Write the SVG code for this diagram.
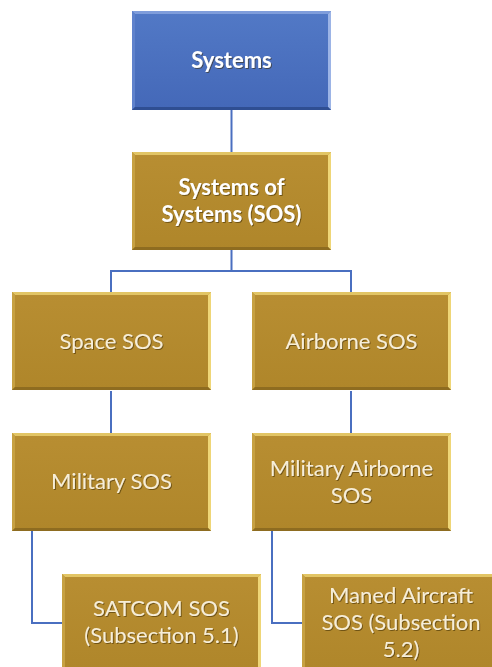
<svg xmlns="http://www.w3.org/2000/svg" width="492" height="667" viewBox="0 0 492 667">
<style>
.lbl{font-family:Lato,"Open Sans",sans-serif;font-size:22px;fill:#F7EED8;text-anchor:middle;filter:url(#ts)}
.b{font-weight:bold;fill:#FFFFFF}
.con{fill:none;stroke:#4A6FC0;stroke-width:2}
</style>
<defs>
<filter id="ts" x="-10%" y="-30%" width="120%" height="160%">
<feDropShadow dx="1" dy="1" stdDeviation="0.6" flood-color="#3a2a00" flood-opacity="0.55"/>
</filter>
<linearGradient id="gg" x1="0" y1="0" x2="0" y2="1">
<stop offset="0" stop-color="#B88E32"/>
<stop offset="1" stop-color="#AF862A"/>
</linearGradient>
<linearGradient id="bg" x1="0" y1="0" x2="0" y2="1">
<stop offset="0" stop-color="#5279C6"/>
<stop offset="1" stop-color="#4468B8"/>
</linearGradient>
<symbol id="gold" viewBox="0 0 199 98" width="199" height="98">
<rect x="0" y="0" width="199" height="98" fill="url(#gg)"/>
<polygon points="0,0 199,0 196,3 3,3" fill="#E2C565"/>
<polygon points="0,0 3,3 3,95 0,98" fill="#C7A142"/>
<polygon points="199,0 199,98 196,95 196,3" fill="#EFD677"/>
<polygon points="0,98 3,95 196,95 199,98" fill="#8E6C20"/>
</symbol>
<symbol id="blue" viewBox="0 0 199 99" width="199" height="99">
<rect x="0" y="0" width="199" height="99" fill="url(#bg)"/>
<polygon points="0,0 199,0 196,3 3,3" fill="#7F9DDB"/>
<polygon points="0,0 3,3 3,96 0,99" fill="#5F82CC"/>
<polygon points="199,0 199,99 196,96 196,3" fill="#9CB4E6"/>
<polygon points="0,99 3,96 196,96 199,99" fill="#2F4E92"/>
</symbol>
</defs>
<rect width="492" height="667" fill="#FFFFFF"/>
<g id="connectors">
<path class="con" d="M231.5,110 V152"/>
<path class="con" d="M231.5,250 V271 M111,271 H351 M111,270 V292 M351,270 V292"/>
<path class="con" d="M111,391 V433 M351,391 V433"/>
<path class="con" d="M32,531 V623 H62"/>
<path class="con" d="M272,531 V623 H302"/>
</g>
<g id="systems">
<use href="#blue" x="132" y="11"/>
<text class="lbl b" x="231.5" y="68">Systems</text>
</g>
<g id="sos">
<use href="#gold" x="132" y="152"/>
<text class="lbl b" x="231.5" y="195">Systems of</text>
<text class="lbl b" x="231.5" y="222">Systems (SOS)</text>
</g>
<g id="space-sos">
<use href="#gold" x="12" y="292"/>
<text class="lbl" x="111.5" y="349">Space SOS</text>
</g>
<g id="airborne-sos">
<use href="#gold" x="252" y="292"/>
<text class="lbl" x="351.5" y="349">Airborne SOS</text>
</g>
<g id="military-sos">
<use href="#gold" x="12" y="433"/>
<text class="lbl" x="111.5" y="489">Military SOS</text>
</g>
<g id="military-airborne-sos">
<use href="#gold" x="252" y="433"/>
<text class="lbl" x="351.5" y="476">Military Airborne</text>
<text class="lbl" x="351.5" y="503">SOS</text>
</g>
<g id="satcom-sos">
<use href="#gold" x="62" y="574"/>
<text class="lbl" x="161.5" y="616">SATCOM SOS</text>
<text class="lbl" x="161.5" y="643">(Subsection 5.1)</text>
</g>
<g id="maned-aircraft-sos">
<use href="#gold" x="302" y="574"/>
<text class="lbl" x="401" y="603">Maned Aircraft</text>
<text class="lbl" x="401" y="630">SOS (Subsection</text>
<text class="lbl" x="401" y="657">5.2)</text>
</g>
</svg>
